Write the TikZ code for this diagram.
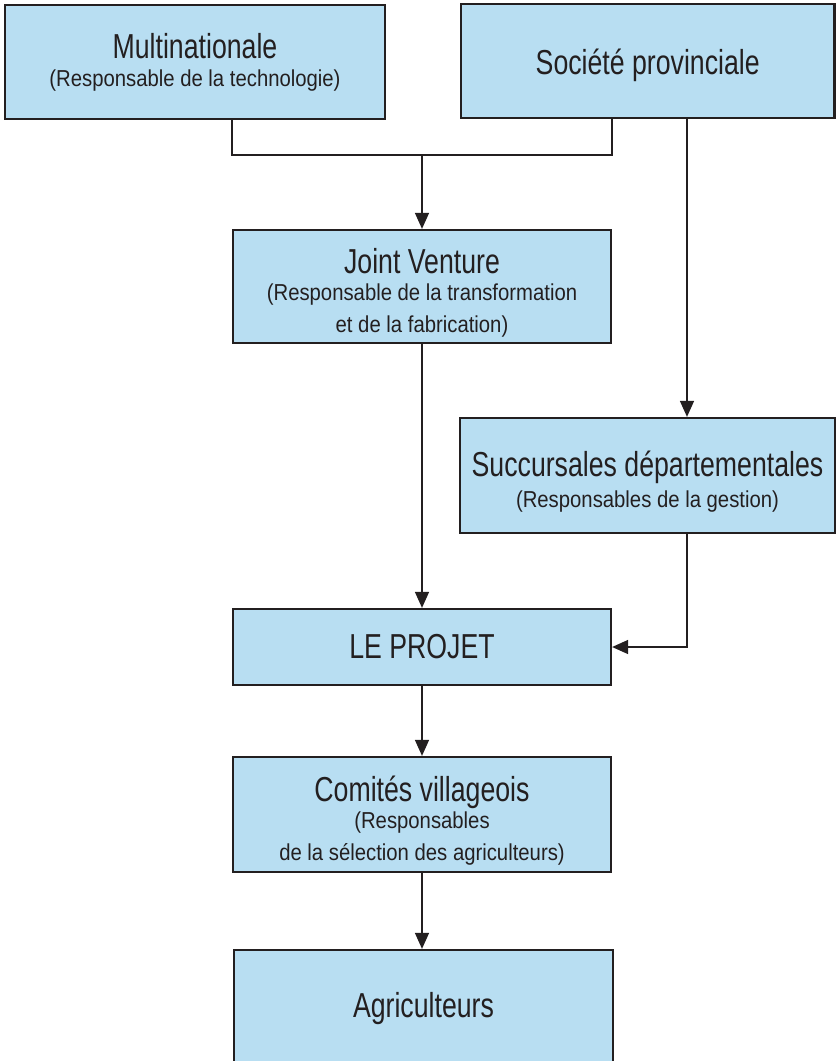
\documentclass[tikz,border=0pt]{standalone}
\usepackage{fontspec}
\setmainfont{Liberation Sans}[FakeStretch=0.77]
\newfontfamily\subfont{Liberation Sans}[FakeStretch=0.88]
\usepackage{xcolor}
\usepackage{tikz}
\usetikzlibrary{arrows.meta}
\definecolor{boxblue}{RGB}{184,222,242}
\definecolor{inkdark}{RGB}{35,31,32}
\newcommand{\subline}[1]{{\subfont\fontsize{17.3}{22.5}\selectfont #1}}
\newcommand{\lift}{\rule{0pt}{28pt}}

\begin{document}
\begin{tikzpicture}[x=0.75pt, y=-0.75pt,
    every node/.style={font=\fontsize{26}{24}\selectfont, text=inkdark},
    orgbox/.style={draw=inkdark, line width=1.7pt, fill=boxblue, align=center,
        inner sep=0pt, minimum width=283.5pt, minimum height=85.5pt},
    link/.style={draw=inkdark, line width=1.1pt},
    flow/.style={link, -{Triangle[length=12pt, width=10.5pt]}}]
    \useasboundingbox (0,0) rectangle (836,1061);
    \clip (0,0) rectangle (836,1061);

    % Top partners
    \node[orgbox, minimum width=285pt] (multi) at (195,62) {Multinationale\\[-3pt]\subline{(Responsable de la technologie)}};
    \node[orgbox, minimum width=280pt] (soc) at (647.75,61) {\raisebox{-9.8pt}[0pt][0pt]{Soci\'et\'e provinciale}};

    % Joint venture
    \node[orgbox, minimum height=84.75pt] (jv) at (422,286.5) {\lift Joint Venture\\[-4pt]\subline{(Responsable de la transformation}\\\subline{et de la fabrication)}};

    % Branches
    \node[orgbox, minimum width=281pt, minimum height=86.25pt] (succ) at (647.5,475.5) {\lift Succursales d\'epartementales\\[-1pt]\subline{(Responsables de la gestion)}};

    % Project and below
    \node[orgbox, minimum height=57pt] (projet) at (422,647) {LE PROJET};
    \node[orgbox, minimum height=86.25pt] (comites) at (422,814.5) {\lift Comit\'es villageois\\[-4pt]\subline{(Responsables}\\\subline{de la s\'election des agriculteurs)}};
    \node[orgbox, minimum width=284pt, minimum height=88.5pt] (agri) at (423.5,1009) {Agriculteurs};

    % Arrows
    \coordinate (join) at (422,155);
    \coordinate (branch) at (687,118);
    \draw[link] (multi.south -| jv.west) |- (join) -| (soc.south -| jv.east);
    \draw[flow] (join) -- (jv.north);
    \draw[flow] (branch) -- (branch |- succ.north);
    \draw[flow] (jv.south) -- (projet.north);
    \draw[flow] (succ.south -| branch) |- (projet.east);
    \draw[flow] (projet.south) -- (comites.north);
    \draw[flow] (comites.south) -- (comites.south |- agri.north);
\end{tikzpicture}
\end{document}
